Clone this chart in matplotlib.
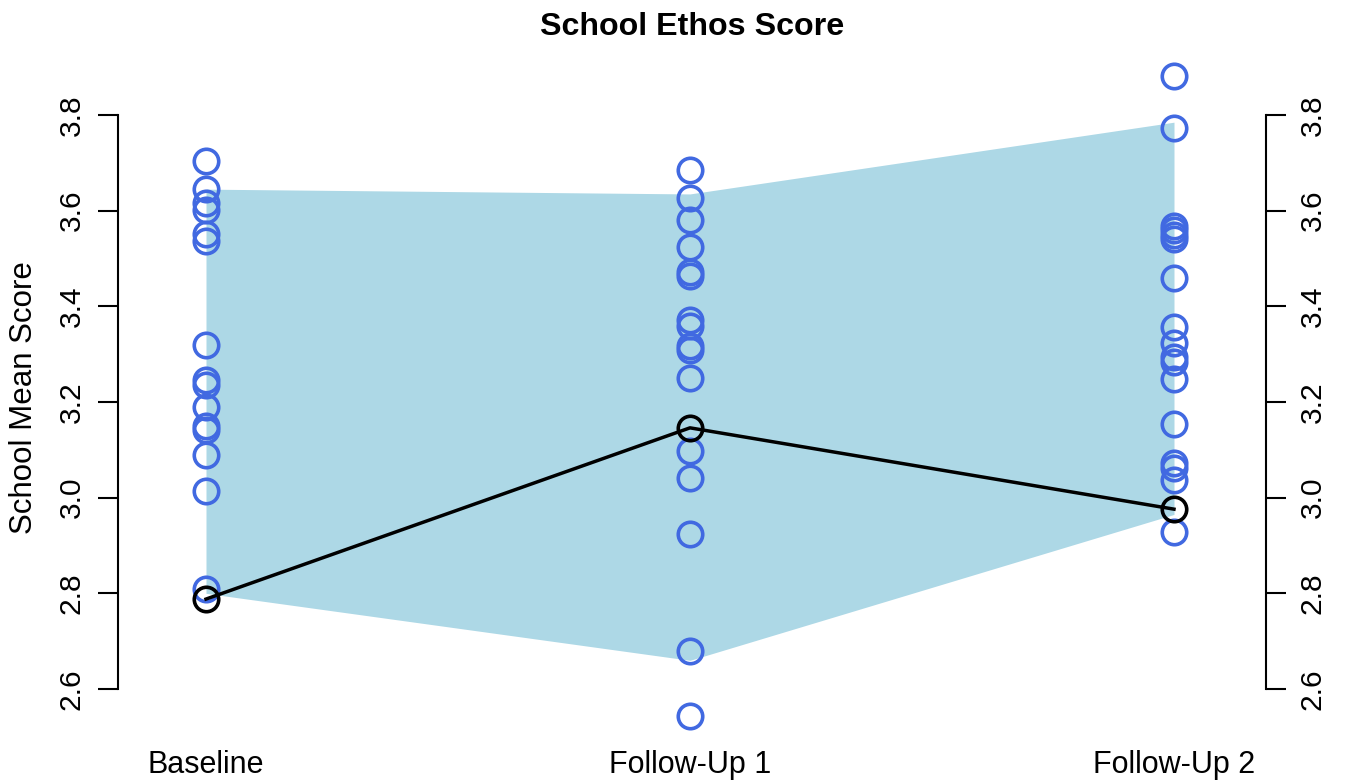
import numpy as np
import matplotlib.pyplot as plt

plt.rcParams['font.family'] = ['Liberation Sans', 'DejaVu Sans']

timepoints = ['Baseline', 'Follow-Up 1', 'Follow-Up 2']

# school mean scores at each wave
baseline = [3.704, 3.645, 3.616, 3.601, 3.551, 3.537, 3.319, 3.246, 3.236,
            3.190, 3.150, 3.141, 3.089, 3.014, 2.809]
follow_up_1 = [3.685, 3.626, 3.580, 3.525, 3.472, 3.463, 3.371, 3.359, 3.317,
               3.309, 3.250, 3.097, 3.041, 2.925, 2.680, 2.543]
follow_up_2 = [3.882, 3.772, 3.568, 3.560, 3.549, 3.541, 3.459, 3.357, 3.323,
               3.295, 3.284, 3.249, 3.155, 3.072, 3.061, 3.037, 2.929]

# shaded band and summary line
band_lower = [2.800, 2.660, 2.965]
band_upper = [3.645, 3.635, 3.785]
trend = [2.788, 3.146, 2.976]

x = np.arange(1, len(timepoints) + 1)
blue = '#4169E1'

fig = plt.figure(figsize=(13.56, 7.84), dpi=100)
ax = fig.add_axes([118/1356, 44/784, 1148/1356, 680/784])

ax.fill_between(x, band_lower, band_upper, color='#ADD8E6', lw=0)
for xi, vals in zip(x, [baseline, follow_up_1, follow_up_2]):
    ax.plot(np.full(len(vals), xi), vals, 'o', ms=17.6, mfc='none',
            mec=blue, mew=2.6, ls='none')
ax.plot(x, trend, color='black', lw=2.5, marker='o', ms=17.6,
        mfc='none', mec='black', mew=2.6)

ax.set_xlim(0.8182, 3.1901)
ax.set_ylim(2.4934, 3.915)

ax.spines['top'].set_visible(False)
ax.spines['bottom'].set_visible(False)
for side in ['left', 'right']:
    ax.spines[side].set_bounds(2.6, 3.8)
    ax.spines[side].set_linewidth(1.5)

yt = np.arange(2.6, 3.81, 0.2)
ax.set_yticks(yt, ['%.1f' % v for v in yt])
ax.tick_params(axis='y', direction='out', length=14.4, width=1.5,
               labelsize=21.5, pad=9, labelrotation=90,
               right=True, labelright=True)
for lab in ax.yaxis.get_ticklabels(which='major'):
    lab.set_va('center')

ax.set_xticks(x, timepoints)
ax.tick_params(axis='x', length=0, labelsize=22, pad=7)

ax.set_ylabel('School Mean Score', fontsize=22.5)
ax.yaxis.set_label_coords(-0.069, 0.504)
ax.set_title('School Ethos Score', fontsize=23.2, fontweight='bold', pad=18)

fig.savefig('out.png', dpi=100)
